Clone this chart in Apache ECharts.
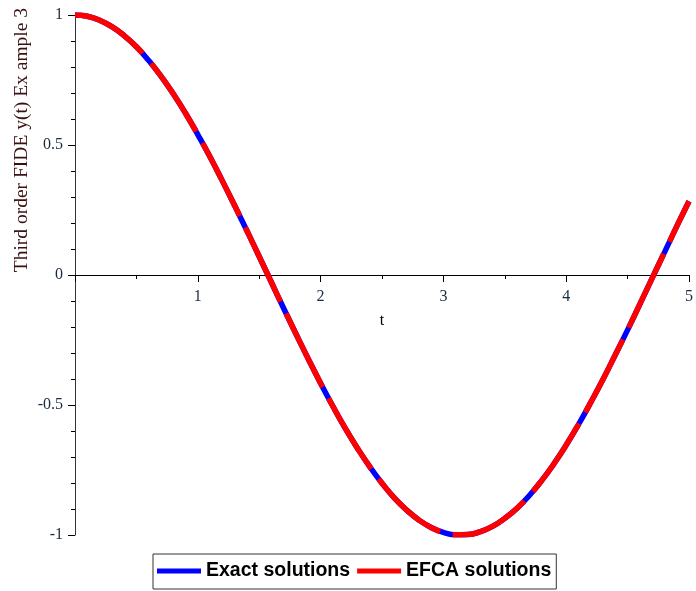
<!DOCTYPE html>
<html>
<head>
<meta charset="UTF-8">
<title>Third order FIDE Example 3</title>
<script src="https://cdn.jsdelivr.net/npm/echarts@6/dist/echarts.min.js"></script>
</head>
<body style="margin:0">
<div id="demo" style="width:696px;height:591px;"></div>
<script>
// t values and y(t)
var tList = [0, 0.1, 0.2, 0.3, 0.4, 0.5, 0.6, 0.7, 0.8, 0.9,
    1.0, 1.1, 1.2, 1.3, 1.4, 1.5, 1.6, 1.7, 1.8, 1.9,
    2.0, 2.1, 2.2, 2.3, 2.4, 2.5, 2.6, 2.7, 2.8, 2.9,
    3.0, 3.1, 3.2, 3.3, 3.4, 3.5, 3.6, 3.7, 3.8, 3.9,
    4.0, 4.1, 4.2, 4.3, 4.4, 4.5, 4.6, 4.7, 4.8, 4.9, 5.0];
var exactList = [1.00, 0.995, 0.98, 0.955, 0.921, 0.878, 0.825, 0.765, 0.697, 0.622,
    0.540, 0.454, 0.362, 0.267, 0.170, 0.071, -0.029, -0.129, -0.227, -0.323,
    -0.416, -0.505, -0.589, -0.666, -0.737, -0.801, -0.857, -0.904, -0.942, -0.971,
    -0.990, -0.999, -0.998, -0.987, -0.967, -0.936, -0.897, -0.848, -0.791, -0.726,
    -0.654, -0.575, -0.490, -0.401, -0.307, -0.211, -0.112, -0.012, 0.087, 0.187, 0.284];
var efcaList = [1.00, 0.995, 0.98, 0.955, 0.921, 0.878, 0.825, 0.765, 0.697, 0.622,
    0.540, 0.454, 0.362, 0.267, 0.170, 0.071, -0.029, -0.129, -0.227, -0.323,
    -0.416, -0.505, -0.589, -0.666, -0.737, -0.801, -0.857, -0.904, -0.942, -0.971,
    -0.990, -0.999, -0.998, -0.987, -0.967, -0.936, -0.897, -0.848, -0.791, -0.726,
    -0.654, -0.575, -0.490, -0.401, -0.307, -0.211, -0.112, -0.012, 0.087, 0.187, 0.284];
var seriesNames = ['Exact solutions', 'EFCA solutions'];

var exactData = tList.map(function (t, i) { return [t, exactList[i]]; });
var efcaData = tList.map(function (t, i) { return [t, efcaList[i]]; });

var chart = echarts.init(document.getElementById('demo'));
var serif = '"Liberation Serif", "DejaVu Serif", serif';

var option = {
    animation: false,
    grid: { left: 75, right: 3, top: 15, bottom: 56 },
    xAxis: {
        type: 'value',
        min: 0, max: 5, interval: 1,
        position: 'bottom',
        offset: -260,   // puts the axis on y = 0
        name: 't',
        nameLocation: 'middle',
        nameGap: 38,
        nameTextStyle: { color: '#000', fontFamily: serif, fontSize: 16 },
        axisLine: { onZero: false, lineStyle: { color: '#000', width: 1 } },
        axisTick: { show: true, length: 7, lineStyle: { color: '#000' } },
        minorTick: { show: true, splitNumber: 2, length: 4, lineStyle: { color: '#000' } },
        splitLine: { show: false },
        axisLabel: {
            color: '#1a2a40', fontFamily: serif, fontSize: 16, margin: 14,
            formatter: function (v) { return v === 0 ? '' : v; }
        }
    },
    yAxis: {
        type: 'value',
        min: -1, max: 1, interval: 0.5,
        axisLine: { onZero: false, lineStyle: { color: '#333', width: 1 } },
        axisTick: { show: true, length: 7, lineStyle: { color: '#000' } },
        minorTick: { show: true, splitNumber: 5, length: 4, lineStyle: { color: '#000' } },
        splitLine: { show: false },
        axisLabel: {
            color: '#1a2a40', fontFamily: serif, fontSize: 16, margin: 12,
            formatter: function (v) { return String(v); }
        }
    },
    legend: {
        left: 153, top: 554,
        data: seriesNames,
        icon: 'rect',
        itemWidth: 44, itemHeight: 5, itemGap: 7,
        padding: [7, 5, 8, 4],
        borderColor: '#333', borderWidth: 1,
        textStyle: { color: '#000', fontWeight: 'bold', fontSize: 19.5, fontFamily: '"Liberation Sans", Arial, sans-serif' }
    },
    graphic: [{
        type: 'text',
        left: 12, top: 8,
        rotation: Math.PI / 2,
        style: {
            text: 'Third order FIDE y(t) Ex ample 3',
            fill: '#3a1010',
            font: '19.5px ' + serif
        }
    }],
    series: [{
        name: seriesNames[0],
        type: 'line',
        data: exactData,
        showSymbol: false,
        smooth: true,
        color: '#0000ff',
        lineStyle: { color: '#0000ff', width: 5.5 }
    }, {
        name: seriesNames[1],
        type: 'line',
        data: efcaData,
        showSymbol: false,
        smooth: true,
        color: '#ff0000',
        lineStyle: { color: '#ff0000', width: 5.5, type: [82, 13], dashOffset: 2 }
    }]
};
chart.setOption(option);
</script>
</body>
</html>
